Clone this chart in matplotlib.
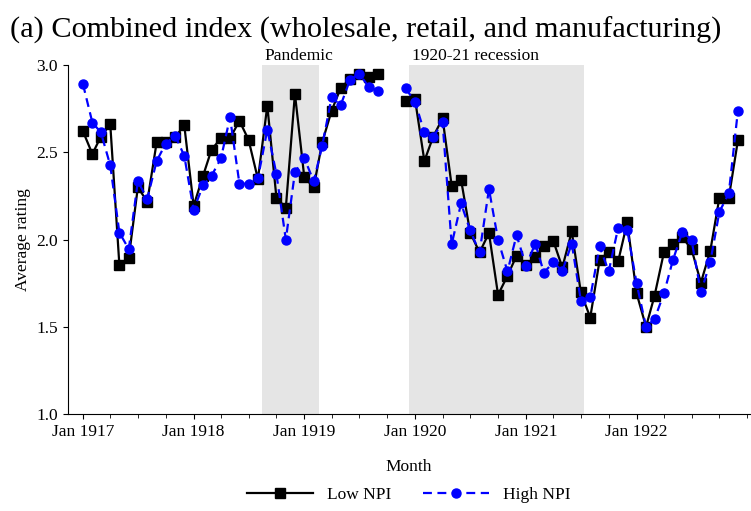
import numpy as np
import pandas as pd
import matplotlib
matplotlib.use('Agg')
import matplotlib.pyplot as plt
import matplotlib.dates as mdates

plt.rcParams['font.family'] = ['Liberation Serif', 'DejaVu Serif']

# monthly average ratings; no survey in Oct/Nov 1919
months_a = pd.date_range('1917-01-01', '1919-09-01', freq='MS')
months_b = pd.date_range('1919-12-01', '1922-12-01', freq='MS')

low_a = [2.62, 2.49, 2.59, 2.66, 1.855, 1.895, 2.30, 2.216, 2.557, 2.56, 2.585, 2.656,
         2.193, 2.365, 2.515, 2.58, 2.58, 2.68, 2.572, 2.346,
         2.767, 2.24, 2.18, 2.835, 2.356, 2.30, 2.557, 2.738, 2.868, 2.92, 2.95, 2.933, 2.95]
high_a = [2.89, 2.67, 2.614, 2.425, 2.04, 1.945, 2.333, 2.233, 2.45, 2.55, 2.595, 2.48,
          2.17, 2.31, 2.365, 2.465, 2.70, 2.32, 2.32, 2.35,
          2.63, 2.375, 2.0, 2.385, 2.467, 2.333, 2.537, 2.815, 2.77, 2.916, 2.95, 2.876, 2.85]
low_b = [2.795, 2.805, 2.45, 2.589, 2.694, 2.308, 2.342, 2.04, 1.926, 2.037, 1.683, 1.792,
         1.907, 1.855, 1.90, 1.964, 1.993, 1.84, 2.046, 1.697, 1.553, 1.882, 1.93, 1.874,
         2.098, 1.691, 1.50, 1.677, 1.926, 1.972, 2.012, 1.945, 1.753, 1.935, 2.24, 2.24, 2.568]
high_b = [2.866, 2.79, 2.614, 2.589, 2.671, 1.972, 2.207, 2.052, 1.926, 2.289, 1.998, 1.817,
          2.025, 1.85, 1.977, 1.81, 1.869, 1.82, 1.977, 1.65, 1.668, 1.96, 1.817, 2.067,
          2.056, 1.748, 1.50, 1.543, 1.691, 1.884, 2.044, 1.998, 1.697, 1.872, 2.159, 2.264, 2.738]

months = list(months_a) + [pd.Timestamp('1919-10-01')] + list(months_b)
low = low_a + [np.nan] + low_b
high = high_a + [np.nan] + high_b

pandemic = ('1918-08-16', '1919-02-18')
recession = ('1919-12-13', '1921-07-13')
year_ticks = pd.date_range('1917-01-01', '1922-01-01', freq='YS')

fig = plt.figure(figsize=(7.51, 5.11), dpi=100)
ax = fig.add_axes([0.0899, 0.1898, 0.9088, 0.683])

for (s, e), lab in [(pandemic, 'Pandemic'), (recession, '1920-21 recession')]:
    ax.axvspan(pd.Timestamp(s), pd.Timestamp(e), color='#e5e5e5', lw=0, zorder=0)
    ax.text(pd.Timestamp(s) + pd.Timedelta(days=8), 3.005, lab, fontsize=12.5,
            ha='left', va='bottom')

ax.plot(months, low, color='black', lw=1.6, marker='s', ms=7.5, label='Low NPI', zorder=2)
ax.plot(months, high, color='blue', lw=1.6, ls=(0, (4, 2.5)), marker='o', ms=6.5,
        label='High NPI', zorder=3)

ax.set_ylim(1.0, 3.0)
ax.set_yticks([1.0, 1.5, 2.0, 2.5, 3.0])
ax.set_xlim(pd.Timestamp('1916-11-11'), pd.Timestamp('1923-01-10'))
ax.set_xticks(year_ticks)
ax.xaxis.set_major_formatter(mdates.DateFormatter('Jan %Y'))
ax.xaxis.set_minor_locator(mdates.MonthLocator(bymonth=[1, 4, 7, 10]))
ax.tick_params(labelsize=12.5, direction='out')
ax.tick_params(which='minor', length=3)
for s in ['top', 'right']:
    ax.spines[s].set_visible(False)

ax.set_xlabel('Month', fontsize=12.5, labelpad=14)
ax.set_ylabel('Average rating', fontsize=12.5, labelpad=4)
fig.text(0.487, 0.94, '(a) Combined index (wholesale, retail, and manufacturing)',
         fontsize=21.8, ha='center', va='center')

ax.legend(loc='center', bbox_to_anchor=(0.5, -0.232), ncol=2, frameon=False,
          fontsize=12.5, handlelength=3.8, columnspacing=1.8)

fig.savefig('out.png', dpi=100)
